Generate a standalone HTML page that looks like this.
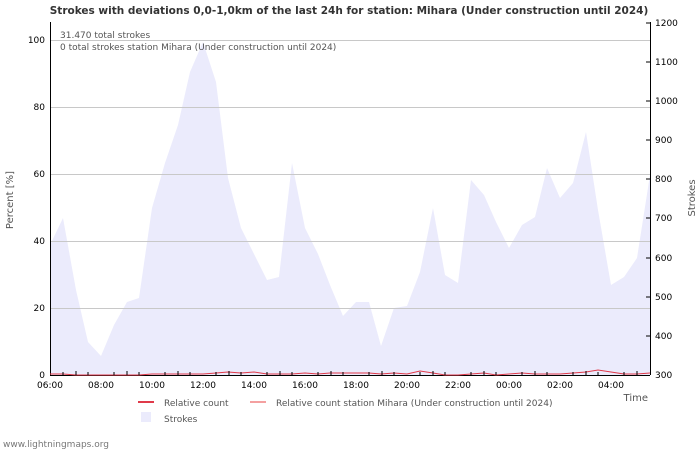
<!DOCTYPE html>
<html><head><meta charset="utf-8"><style>body{margin:0;background:#fff}svg{display:block;font-family:"DejaVu Sans","Liberation Sans",sans-serif}</style></head>
<body>
<svg width="700" height="450" viewBox="0 0 700 450" xmlns="http://www.w3.org/2000/svg">
<rect width="700" height="450" fill="#fff"/>
<text x="349" y="14" text-anchor="middle" font-size="10.5" font-weight="bold" fill="#333">Strokes with deviations 0,0-1,0km of the last 24h for station: Mihara (Under construction until 2024)</text>
<polygon fill="#ebebfc" points="50,375 50,245 63,218 76,290 88,342 101,356 114,325 127,302 139,298 152,208 165,163 178,125 190,72 203,42 216,82 228,178 241,228 254,254 267,280 279,277 292,163 305,228 318,254 330,285 343,316 356,302 369,302 381,346 394,308 407,306 420,272 433,208 445,275 458,283 471,180 484,195 496,222 509,248 522,225 535,217 547,168 560,198 573,183 586,132 598,210 611,285 624,277 637,258 650,175 650,375"/>
<g stroke="#c8c8c8" stroke-width="1">
<line x1="50" y1="308.5" x2="650" y2="308.5"/><line x1="50" y1="241.5" x2="650" y2="241.5"/><line x1="50" y1="174.5" x2="650" y2="174.5"/><line x1="50" y1="107.5" x2="650" y2="107.5"/><line x1="50" y1="40.5" x2="650" y2="40.5"/>
</g>
<g stroke="#000" stroke-width="1">
<line x1="50.5" y1="22" x2="50.5" y2="375"/><line x1="650.5" y1="22" x2="650.5" y2="375"/><line x1="50" y1="375.5" x2="650" y2="375.5"/>
</g>
<g font-size="9" fill="#000" text-anchor="end">
<text x="45" y="378">0</text><text x="45" y="311">20</text><text x="45" y="244">40</text><text x="45" y="177">60</text><text x="45" y="110">80</text><text x="45" y="43">100</text>
</g>
<g font-size="9" fill="#000">
<text x="655" y="378">300</text><text x="655" y="339">400</text><text x="655" y="300">500</text><text x="655" y="261">600</text><text x="655" y="221">700</text><text x="655" y="182">800</text><text x="655" y="143">900</text><text x="655" y="104">1000</text><text x="655" y="65">1100</text><text x="655" y="26">1200</text>
</g>
<g stroke="#000"><line x1="650" y1="336" x2="646" y2="336"/><line x1="650" y1="297" x2="646" y2="297"/><line x1="650" y1="258" x2="646" y2="258"/><line x1="650" y1="218" x2="646" y2="218"/><line x1="650" y1="179" x2="646" y2="179"/><line x1="650" y1="140" x2="646" y2="140"/><line x1="650" y1="101" x2="646" y2="101"/><line x1="650" y1="62" x2="646" y2="62"/><line x1="650" y1="23" x2="646" y2="23"/></g>
<g font-size="9" fill="#000" text-anchor="middle">
<text x="50" y="388">06:00</text><text x="101" y="388">08:00</text><text x="152" y="388">10:00</text><text x="203" y="388">12:00</text><text x="254" y="388">14:00</text><text x="305" y="388">16:00</text><text x="356" y="388">18:00</text><text x="407" y="388">20:00</text><text x="458" y="388">22:00</text><text x="509" y="388">00:00</text><text x="560" y="388">02:00</text><text x="611" y="388">04:00</text>
</g>
<polyline fill="none" stroke="#e03a4a" stroke-width="1" points="50,374 63,374 76,375 88,375 101,375 114,375 127,375 139,375 152,374 165,374 178,374 190,374 203,374 216,373 228,372 241,373 254,372 267,374 279,374 292,374 305,373 318,374 330,373 343,373 356,373 369,373 381,374 394,373 407,374 420,371 433,373 445,375 458,375 471,374 484,373 496,375 509,374 522,373 535,374 547,374 560,374 573,373 586,372 598,370 611,372 624,374 637,374 650,373"/>
<g stroke="#000"><line x1="63" y1="375" x2="63" y2="372"/><line x1="76" y1="375" x2="76" y2="371"/><line x1="88" y1="375" x2="88" y2="372"/><line x1="114" y1="375" x2="114" y2="372"/><line x1="127" y1="375" x2="127" y2="371"/><line x1="139" y1="375" x2="139" y2="372"/><line x1="165" y1="375" x2="165" y2="372"/><line x1="178" y1="375" x2="178" y2="371"/><line x1="190" y1="375" x2="190" y2="372"/><line x1="216" y1="375" x2="216" y2="372"/><line x1="229" y1="375" x2="229" y2="371"/><line x1="241" y1="375" x2="241" y2="372"/><line x1="267" y1="375" x2="267" y2="372"/><line x1="280" y1="375" x2="280" y2="371"/><line x1="292" y1="375" x2="292" y2="372"/><line x1="318" y1="375" x2="318" y2="372"/><line x1="331" y1="375" x2="331" y2="371"/><line x1="343" y1="375" x2="343" y2="372"/><line x1="369" y1="375" x2="369" y2="372"/><line x1="382" y1="375" x2="382" y2="371"/><line x1="394" y1="375" x2="394" y2="372"/><line x1="420" y1="375" x2="420" y2="372"/><line x1="433" y1="375" x2="433" y2="371"/><line x1="445" y1="375" x2="445" y2="372"/><line x1="471" y1="375" x2="471" y2="372"/><line x1="484" y1="375" x2="484" y2="371"/><line x1="496" y1="375" x2="496" y2="372"/><line x1="522" y1="375" x2="522" y2="372"/><line x1="535" y1="375" x2="535" y2="371"/><line x1="547" y1="375" x2="547" y2="372"/><line x1="573" y1="375" x2="573" y2="372"/><line x1="586" y1="375" x2="586" y2="371"/><line x1="598" y1="375" x2="598" y2="372"/><line x1="624" y1="375" x2="624" y2="372"/><line x1="637" y1="375" x2="637" y2="371"/></g>
<text x="60" y="38" font-size="9" fill="#555">31.470 total strokes</text>
<text x="60" y="50" font-size="9" fill="#555">0 total strokes station Mihara (Under construction until 2024)</text>
<text transform="translate(13,200) rotate(-90)" text-anchor="middle" font-size="10" fill="#555">Percent   [%]</text>
<text transform="translate(695,198) rotate(-90)" text-anchor="middle" font-size="10" fill="#555">Strokes</text>
<text x="648" y="401" text-anchor="end" font-size="10" fill="#555">Time</text>
<line x1="138" y1="402" x2="154" y2="402" stroke="#e03a4a" stroke-width="2"/>
<text x="164" y="406" font-size="9" fill="#555">Relative count</text>
<line x1="250" y1="402" x2="266" y2="402" stroke="#f4a0a0" stroke-width="2"/>
<text x="276" y="406" font-size="9" fill="#555">Relative count station Mihara (Under construction until 2024)</text>
<rect x="141" y="412" width="10" height="10" fill="#ebebfc"/>
<text x="164" y="422" font-size="9" fill="#555">Strokes</text>
<text x="3" y="447" font-size="9" fill="#777">www.lightningmaps.org</text>
</svg>
</body></html>
